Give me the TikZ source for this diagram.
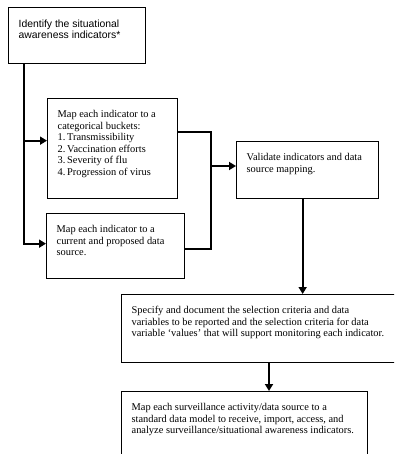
\documentclass[tikz,border=0pt]{standalone}
\usepackage{fontspec}
\setmainfont{Liberation Serif}
\newfontfamily\arialfont{Liberation Sans}
\usetikzlibrary{arrows.meta}
\newcommand{\boxtext}[3]{\parbox[t][#2][t]{#1}{\raggedright\fontsize{10.4pt}{11.5pt}\selectfont #3}}
\newcommand{\itemno}[1]{\makebox[9.5pt][l]{#1}}

\begin{document}
\begin{tikzpicture}[
		stepbox/.style={draw, line width=1.3pt, anchor=north west, inner xsep=10pt, inner ysep=12pt},
		link/.style={line width=2.2pt},
		arrowlink/.style={link, -{Triangle[length=7pt,width=8pt]}}
	]
	\useasboundingbox (0,0) rectangle (394pt,-454pt);
	\clip (0,0) rectangle (394pt,-454pt);
	\node[stepbox] (ident) at (8pt,-7pt)
		{\boxtext{117pt}{32pt}{\arialfont Identify the situational\\ awareness indicators*}};
	\node[stepbox] (buckets) at (47pt,-98pt)
		{\boxtext{110pt}{76pt}{Map each indicator to a\\ categorical buckets:\\
			\itemno{1.}Transmissibility\\ \itemno{2.}Vaccination efforts\\
			\itemno{3.}Severity of flu\\ \itemno{4.}Progression of virus}};
	\node[stepbox] (source) at (46pt,-213pt)
		{\boxtext{118pt}{41pt}{Map each indicator to a\\ current and proposed data\\ source.}};
	\node[stepbox] (validate) at (236pt,-141pt)
		{\boxtext{122pt}{33pt}{Validate indicators and data\\ source mapping.}};
	\node[stepbox] (specify) at (121pt,-294pt)
		{\boxtext{300pt}{44pt}{Specify and document the selection criteria and data\\
			variables to be reported and the selection criteria for data\\
			variable `values' that will support monitoring each indicator.}};
	\node[stepbox] (model) at (121pt,-391pt)
		{\boxtext{226pt}{56pt}{Map each surveillance activity/data source to a\\
			standard data model to receive, import, access, and\\
			analyze surveillance/situational awareness indicators.}};
	% bend points
	\coordinate (trunk) at ([xshift=16pt]ident.south west);
	\coordinate (join) at (211pt,-166pt);
	\coordinate (down) at ([xshift=-5pt]validate.south);
	\coordinate (drop) at (269pt,-391pt);
	\draw[arrowlink] (trunk) |- ([yshift=8pt]buckets.west);
	\draw[arrowlink] (trunk) |- ([yshift=2.5pt]source.west);
	\draw[link] ([yshift=17pt]buckets.east) -| (join) |- ([yshift=-2.5pt]source.east);
	\draw[arrowlink] (join) -- (join -| validate.west);
	\draw[arrowlink] (down) -- (down |- specify.north);
	\draw[arrowlink] (specify.south -| drop) -- (drop |- model.north);
\end{tikzpicture}
\end{document}
